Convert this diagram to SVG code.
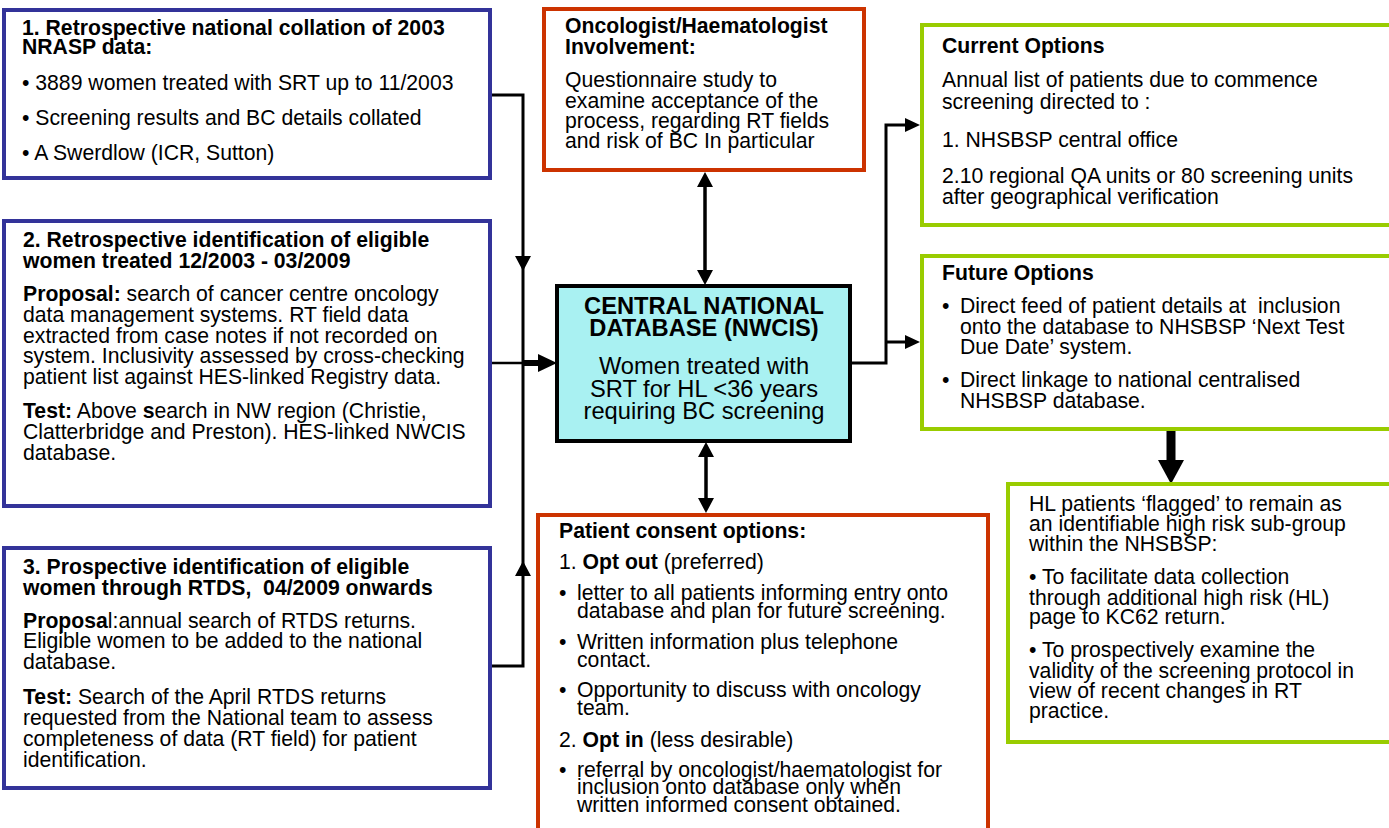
<svg xmlns="http://www.w3.org/2000/svg" width="1389" height="828" viewBox="0 0 1389 828">
<style>
.t{font-family:"Liberation Sans",Arial,Helvetica,sans-serif;font-size:21.2px;fill:#000}
.b{font-weight:bold}
.c{font-size:23.7px;text-anchor:middle}
.blue{fill:#fff;stroke:#333399;stroke-width:4}
.red{fill:#fff;stroke:#cc3300;stroke-width:4}
.green{fill:#fff;stroke:#99cc00;stroke-width:4}
.core{fill:#a9f1f2;stroke:#000;stroke-width:4}
.ln{fill:none;stroke:#000;stroke-width:3}
.ah{fill:#000;stroke:none}
</style>
<rect width="1389" height="828" fill="#fff"/>

<g id="connectors">
  <path class="ln" d="M490,95 H523 V666 H490"/>
  <polygon class="ah" points="515,256 531,256 523,271"/>
  <polygon class="ah" points="515,576 531,576 523,561"/>
  <path class="ln" d="M490,363 H523" style="stroke-width:2.5"/>
  <path class="ln" d="M523,363 H540" style="stroke-width:6"/>
  <polygon class="ah" points="538,354 538,372 557,363"/>
  <path class="ln" d="M705,186 V272" style="stroke-width:3.5"/>
  <polygon class="ah" points="697,187 713,187 705,172"/>
  <polygon class="ah" points="697,270 713,270 705,285"/>
  <path class="ln" d="M706,456 V500" style="stroke-width:3.5"/>
  <polygon class="ah" points="698,457 714,457 706,442"/>
  <polygon class="ah" points="698,498 714,498 706,513"/>
  <path class="ln" d="M850,363 H886 V125 H906"/>
  <polygon class="ah" points="905,118 905,132 920,125"/>
  <path class="ln" d="M886,342 H906"/>
  <polygon class="ah" points="905,335 905,349 920,342"/>
  <rect class="ah" x="1166.5" y="429" width="9" height="32"/>
  <polygon class="ah" points="1158,460 1184,460 1171,484"/>
</g>

<g id="box1">
  <rect class="blue" x="4" y="10" width="486" height="168"/>
  <text class="t b" x="22" y="35">1. Retrospective national collation of 2003</text>
  <text class="t b" x="22" y="54">NRASP data:</text>
  <text class="t" x="22" y="90">• 3889 women treated with SRT up to 11/2003</text>
  <text class="t" x="22" y="125">• Screening results and BC details collated</text>
  <text class="t" x="22" y="160">• A Swerdlow (ICR, Sutton)</text>
</g>

<g id="box2">
  <rect class="blue" x="4" y="221" width="486" height="285"/>
  <text class="t b" x="23" y="247">2. Retrospective identification of eligible</text>
  <text class="t b" x="23" y="268">women treated 12/2003 - 03/2009</text>
  <text class="t" x="23" y="301"><tspan class="b">Proposal:</tspan> search of cancer centre oncology</text>
  <text class="t" x="23" y="322">data management systems. RT field data</text>
  <text class="t" x="23" y="343">extracted from case notes if not recorded on</text>
  <text class="t" x="23" y="363">system. Inclusivity assessed by cross-checking</text>
  <text class="t" x="23" y="384">patient list against HES-linked Registry data.</text>
  <text class="t" x="23" y="418"><tspan class="b">Test:</tspan> Above <tspan class="b">s</tspan>earch in NW region (Christie,</text>
  <text class="t" x="23" y="439">Clatterbridge and Preston). HES-linked NWCIS</text>
  <text class="t" x="23" y="460">database.</text>
</g>

<g id="box3">
  <rect class="blue" x="4" y="548" width="486" height="240"/>
  <text class="t b" x="23" y="574">3. Prospective identification of eligible</text>
  <text class="t b" x="23" y="595" xml:space="preserve">women through RTDS,  04/2009 onwards</text>
  <text class="t" x="23" y="628"><tspan class="b">Proposa</tspan>l:annual search of RTDS returns.</text>
  <text class="t" x="23" y="648">Eligible women to be added to the national</text>
  <text class="t" x="23" y="669">database.</text>
  <text class="t" x="23" y="704"><tspan class="b">Test:</tspan> Search of the April RTDS returns</text>
  <text class="t" x="23" y="725">requested from the National team to assess</text>
  <text class="t" x="23" y="746">completeness of data (RT field) for patient</text>
  <text class="t" x="23" y="767">identification.</text>
</g>

<g id="oncologist">
  <rect class="red" x="544" y="9" width="320" height="161"/>
  <text class="t b" x="565" y="33">Oncologist/Haematologist</text>
  <text class="t b" x="565" y="54">Involvement:</text>
  <text class="t" x="565" y="87">Questionnaire study to</text>
  <text class="t" x="565" y="108">examine acceptance of the</text>
  <text class="t" x="565" y="128">process, regarding RT fields</text>
  <text class="t" x="565" y="148">and risk of BC In particular</text>
</g>

<g id="central">
  <rect class="core" x="557" y="286" width="293" height="155"/>
  <text class="t b c" x="704" y="314">CENTRAL NATIONAL</text>
  <text class="t b c" x="704" y="336">DATABASE (NWCIS)</text>
  <text class="t c" x="704" y="374">Women treated with</text>
  <text class="t c" x="704" y="397">SRT for HL &lt;36 years</text>
  <text class="t c" x="704" y="419">requiring BC screening</text>
</g>

<g id="consent">
  <rect class="red" x="538" y="515" width="450" height="330"/>
  <text class="t b" x="559" y="538">Patient consent options:</text>
  <text class="t" x="559" y="569">1. <tspan class="b">Opt out</tspan> (preferred)</text>
  <text class="t" x="559" y="600">•</text>
  <text class="t" x="577" y="600">letter to all patients informing entry onto</text>
  <text class="t" x="577" y="618">database and plan for future screening.</text>
  <text class="t" x="559" y="649">•</text>
  <text class="t" x="577" y="649">Written information plus telephone</text>
  <text class="t" x="577" y="667">contact.</text>
  <text class="t" x="559" y="697">•</text>
  <text class="t" x="577" y="697">Opportunity to discuss with oncology</text>
  <text class="t" x="577" y="715">team.</text>
  <text class="t" x="559" y="747">2. <tspan class="b">Opt in</tspan> (less desirable)</text>
  <text class="t" x="559" y="777">•</text>
  <text class="t" x="577" y="777">referral by oncologist/haematologist for</text>
  <text class="t" x="577" y="794">inclusion onto database only when</text>
  <text class="t" x="577" y="812">written informed consent obtained.</text>
</g>

<g id="current">
  <rect class="green" x="922" y="25" width="480" height="200"/>
  <text class="t b" x="942" y="53">Current Options</text>
  <text class="t" x="942" y="87">Annual list of patients due to commence</text>
  <text class="t" x="942" y="109">screening directed to :</text>
  <text class="t" x="942" y="147">1. NHSBSP central office</text>
  <text class="t" x="942" y="183">2.10 regional QA units or 80 screening units</text>
  <text class="t" x="942" y="204">after geographical verification</text>
</g>

<g id="future">
  <rect class="green" x="922" y="256" width="480" height="173"/>
  <text class="t b" x="942" y="280">Future Options</text>
  <text class="t" x="942" y="313">•</text>
  <text class="t" x="960" y="313" xml:space="preserve">Direct feed of patient details at  inclusion</text>
  <text class="t" x="960" y="334">onto the database to NHSBSP ‘Next Test</text>
  <text class="t" x="960" y="354">Due Date’ system.</text>
  <text class="t" x="942" y="387">•</text>
  <text class="t" x="960" y="387">Direct linkage to national centralised</text>
  <text class="t" x="960" y="408">NHSBSP database.</text>
</g>

<g id="flagged">
  <rect class="green" x="1008" y="484" width="394" height="258"/>
  <text class="t" x="1029" y="511">HL patients ‘flagged’ to remain as</text>
  <text class="t" x="1029" y="531">an identifiable high risk sub-group</text>
  <text class="t" x="1029" y="551">within the NHSBSP:</text>
  <text class="t" x="1029" y="584">• To facilitate data collection</text>
  <text class="t" x="1029" y="605">through additional high risk (HL)</text>
  <text class="t" x="1029" y="624">page to KC62 return.</text>
  <text class="t" x="1029" y="657">• To prospectively examine the</text>
  <text class="t" x="1029" y="678">validity of the screening protocol in</text>
  <text class="t" x="1029" y="698">view of recent changes in RT</text>
  <text class="t" x="1029" y="718">practice.</text>
</g>
</svg>
